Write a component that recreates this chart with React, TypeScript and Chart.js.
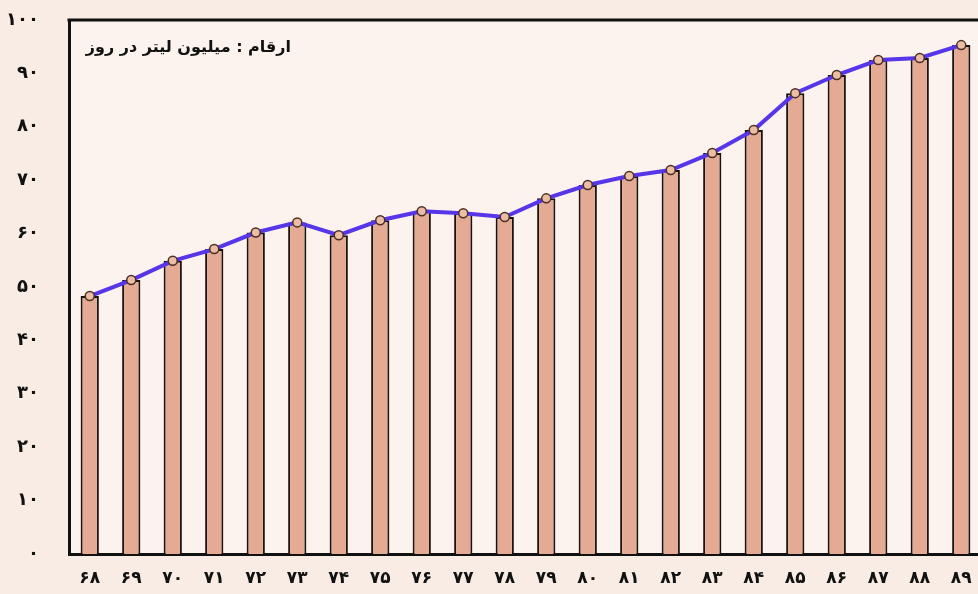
import React, { useEffect, useRef } from "react";
import { Chart, registerables } from "chart.js";

Chart.register(...registerables);

const years = ["68","69","70","71","72","73","74","75","76","77","78","79","80","81","82","83","84","85","86","87","88","89"];
const values = [48.3, 51.3, 54.9, 57.1, 60.2, 62.1, 59.7, 62.5, 64.2, 63.8, 63.1, 66.6, 69.1, 70.8, 71.9, 75.1, 79.4, 86.3, 89.7, 92.5, 92.9, 95.3];
const yTicks = [0, 10, 20, 30, 40, 50, 60, 70, 80, 90, 100];
const titleText = "ارقام : میلیون لیتر در روز";

const faDigits = "۰۱۲۳۴۵۶۷۸۹";
const toFa = (s: string) => s.replace(/[0-9]/g, (d) => faDigits[Number(d)]);

const framePlugin = {
  id: "frame",
  beforeDraw(chart: any) {
    const { ctx, chartArea } = chart;
    ctx.save();
    ctx.fillStyle = "#f9ece4";
    ctx.fillRect(0, 0, chart.width, chart.height);
    ctx.fillStyle = "#fdf3ee";
    ctx.fillRect(chartArea.left, chartArea.top, chartArea.right - chartArea.left, chartArea.bottom - chartArea.top);
    ctx.restore();
  },
  afterDraw(chart: any) {
    const { ctx, chartArea } = chart;
    ctx.save();
    ctx.strokeStyle = "#111";
    ctx.lineWidth = 3;
    ctx.beginPath();
    ctx.moveTo(chartArea.left - 1.5, chartArea.top);
    ctx.lineTo(chart.width, chartArea.top);
    ctx.stroke();
    ctx.fillStyle = "#111";
    ctx.font = "bold 16px 'DejaVu Sans'";
    ctx.direction = "rtl";
    ctx.textAlign = "right";
    ctx.textBaseline = "middle";
    ctx.fillText(titleText, 291, 48);
    ctx.restore();
  },
};

export default function App() {
  const ref = useRef<HTMLCanvasElement | null>(null);
  useEffect(() => {
    if (!ref.current) return;
    const chart = new Chart(ref.current, {
      type: "bar",
      data: {
        labels: years,
        datasets: [
          {
            type: "line",
            data: values,
            borderColor: "#5636e8",
            borderWidth: 4,
            pointRadius: 4.5,
            pointBackgroundColor: "#ebbda3",
            pointBorderColor: "#4a2e22",
            pointBorderWidth: 1.5,
            tension: 0,
            order: 0,
          } as any,
          {
            type: "bar",
            data: values,
            backgroundColor: "#e4aa94",
            borderColor: "#1a1410",
            borderWidth: 2,
            borderSkipped: "bottom",
            barPercentage: 0.44,
            categoryPercentage: 1,
            order: 1,
          },
        ],
      },
      options: {
        animation: false,
        responsive: false,
        maintainAspectRatio: false,
        layout: { padding: 0 },
        plugins: { legend: { display: false }, tooltip: { enabled: false } },
        scales: {
          x: {
            offset: true,
            grid: { display: false, drawTicks: false },
            border: { display: true, color: "#111", width: 3 },
            ticks: {
              color: "#111",
              padding: 14,
              font: { family: "'DejaVu Sans'", size: 17, weight: "bold" },
              callback: (_v: any, i: number) => toFa(years[i]),
            },
            afterFit: (s: any) => { s.height = 40; },
          },
          y: {
            min: 0,
            max: 100,
            afterBuildTicks: (s: any) => { s.ticks = yTicks.map((v) => ({ value: v })); },
            grid: { display: false, drawTicks: false },
            border: { display: true, color: "#111", width: 3 },
            ticks: {
              color: "#111",
              padding: 30,
              font: { family: "'DejaVu Sans'", size: 18, weight: "bold" },
              callback: (v: any) => toFa(String(v)),
            },
            afterFit: (s: any) => { s.width = 69; s.paddingTop = 20; s.paddingBottom = 11; },
          },
        },
      },
      plugins: [framePlugin],
    });
    return () => chart.destroy();
  }, []);
  return (
    <div style={{ position: "absolute", left: 0, top: 0, width: 978, height: 594, overflow: "hidden" }}>
      <canvas ref={ref} width={988} height={594} style={{ display: "block" }} />
    </div>
  );
}
